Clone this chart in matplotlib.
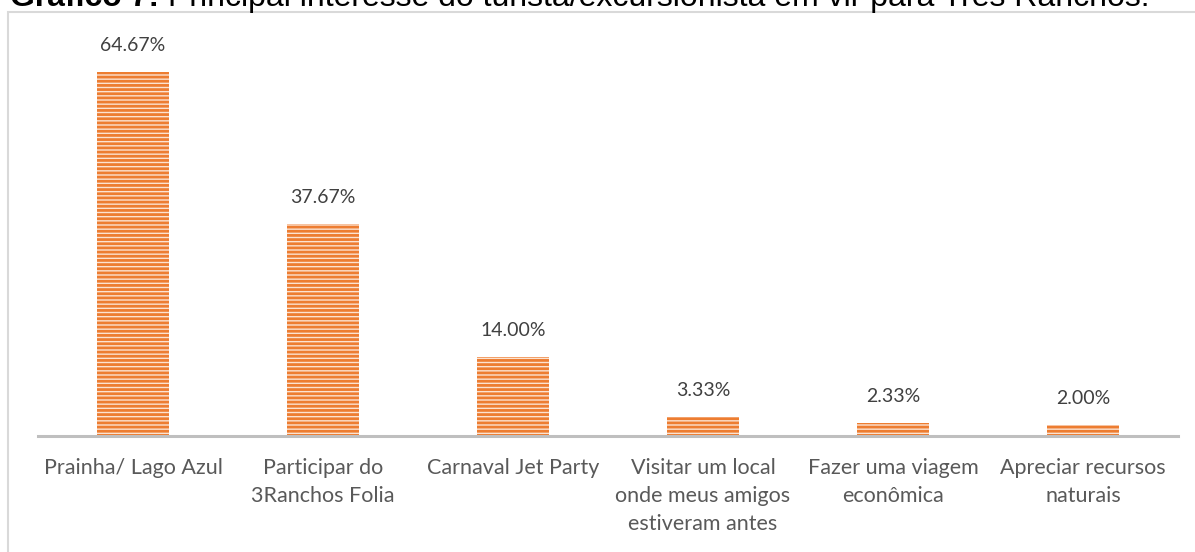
import matplotlib.pyplot as plt
from matplotlib.patches import Rectangle

# data
categories = ['Prainha/ Lago Azul', 'Participar do\n3Ranchos Folia', 'Carnaval Jet Party',
              'Visitar um local\nonde meus amigos\nestiveram antes', 'Fazer uma viagem\neconômica',
              'Apreciar recursos\nnaturais']
values = [64.67, 37.67, 14.00, 3.33, 2.33, 2.00]
value_labels = ['64.67%', '37.67%', '14.00%', '3.33%', '2.33%', '2.00%']

W, H = 1195, 552
plt.rcParams['hatch.linewidth'] = 2.0

fig = plt.figure(figsize=(W / 100, H / 100), dpi=100)

# outer chart border (light grey)
fig.patches.append(Rectangle((8 / W, -0.1), 1.2, 1.1 - 12 / H, transform=fig.transFigure,
                             fill=False, edgecolor='#d9d9d9', linewidth=1.5))

# title, mostly cut off at top like the source
fig.text(10 / W, 1 - 6 / H, 'Gráfico 7: ', fontsize=23, fontweight='bold',
         family='Liberation Sans', va='baseline', ha='left')
t = fig.text(0, 1 - 6 / H, 'Principal interesse do turista/excursionista em vir para Três Ranchos.',
             fontsize=23, family='Liberation Sans', va='baseline', ha='left')
fig.canvas.draw()
r = fig.texts[0].get_window_extent()
t.set_x(r.x1 / W)

ax = fig.add_axes([38 / W, (H - 436) / H, 1140 / W, 394 / H])
x = list(range(len(categories)))
ax.bar(x, values, width=0.38, color='#fce3d1', hatch='----', edgecolor='#ED7D31', linewidth=0)
ax.set_xlim(-0.5, len(categories) - 0.5)
ax.set_ylim(0, 70)

for xi, v, lab in zip(x, values, value_labels):
    ax.annotate(lab, (xi, v), xytext=(0, 19), textcoords='offset points',
                ha='center', va='center', fontsize=14, color='#404040', family='Lato')

for s in ['top', 'right', 'left']:
    ax.spines[s].set_visible(False)
ax.spines['bottom'].set_color('#bfbfbf')
ax.spines['bottom'].set_linewidth(2.2)
ax.set_yticks([])
ax.set_xticks(x)
ax.set_xticklabels(categories, fontsize=15.5, color='#595959', family='Lato', linespacing=1.5)
ax.tick_params(axis='x', length=0, pad=16)
for lbl in ax.get_xticklabels():
    lbl.set_verticalalignment('top')

fig.savefig('out.png', dpi=100)
